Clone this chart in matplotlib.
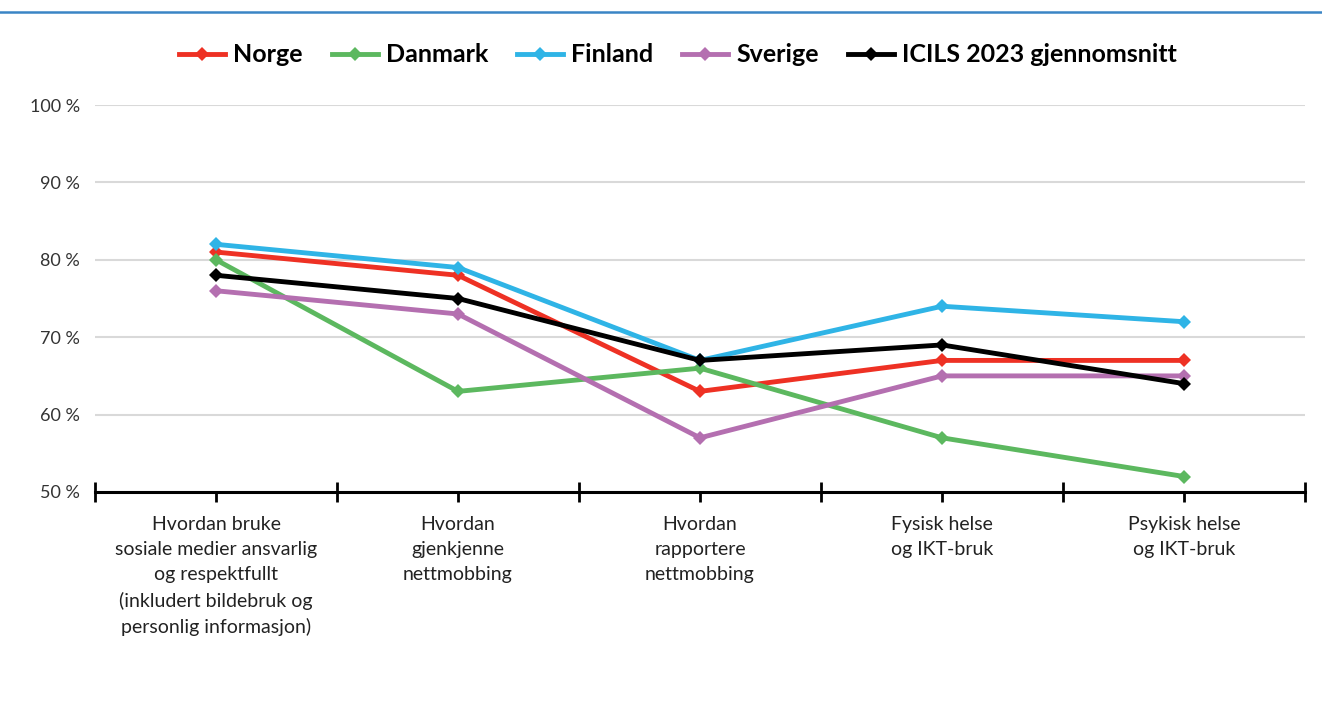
import numpy as np
import matplotlib
matplotlib.use('Agg')
import matplotlib.pyplot as plt
from matplotlib.lines import Line2D
from matplotlib.ticker import FuncFormatter, FixedLocator

plt.rcParams['font.family'] = ['Lato', 'DejaVu Sans']

# Kategorier og verdier (prosent)
kategorier = [
    'Hvordan bruke\nsosiale medier ansvarlig\nog respektfullt\n(inkludert bildebruk og\npersonlig informasjon)',
    'Hvordan\ngjenkjenne\nnettmobbing',
    'Hvordan\nrapportere\nnettmobbing',
    'Fysisk helse\nog IKT-bruk',
    'Psykisk helse\nog IKT-bruk',
]
norge = [81, 78, 63, 67, 67]
danmark = [80, 63, 66, 57, 52]
finland = [82, 79, 67, 74, 72]
sverige = [76, 73, 57, 65, 65]
icils = [78, 75, 67, 69, 64]

serier = [
    ('Norge', norge, '#ee3124'),
    ('Danmark', danmark, '#5cb85f'),
    ('Finland', finland, '#2fb4e6'),
    ('Sverige', sverige, '#b46fb0'),
    ('ICILS 2023 gjennomsnitt', icils, '#000000'),
]

fig = plt.figure(figsize=(13.22, 7.06), dpi=100)
ax = fig.add_axes([95 / 1322, 1 - 492 / 706, 1210 / 1322, 387 / 706])

x = np.arange(len(kategorier))
for navn, verdier, farge in serier:
    ax.plot(x, verdier, color=farge, lw=3.5, marker='D', ms=7.5,
            markeredgewidth=0, label=navn, zorder=3)

ax.set_xlim(-0.5, len(kategorier) - 0.5)
ax.set_ylim(50, 100)
ax.set_yticks([50, 60, 70, 80, 90, 100])
ax.yaxis.set_major_formatter(FuncFormatter(lambda v, p: f'{int(v)} %'))
ax.tick_params(axis='y', length=0, pad=11, labelsize=13, labelcolor='#333333')
ax.yaxis.grid(True, color='#d9d9d9', lw=1.5, zorder=0)
ax.set_axisbelow(True)

# x-akse: lange kryssende streker mellom kategoriene, korte under punktene
ax.xaxis.set_major_locator(FixedLocator(np.arange(len(kategorier) + 1) - 0.5))
ax.xaxis.set_minor_locator(FixedLocator(x))
ax.set_xticklabels([''] * (len(kategorier) + 1))
ax.set_xticklabels([''] * len(kategorier), minor=True)
ax.tick_params(axis='x', which='major', direction='inout', length=15, width=2, color='black')
ax.tick_params(axis='x', which='minor', direction='out', length=7, width=2, color='black')

# kategorinavn under aksen (egen tekst for å styre linjeavstanden)
for xi, navn in zip(x, kategorier):
    ax.annotate(navn, xy=(xi, 0), xycoords=('data', 'axes fraction'),
                xytext=(0, -17), textcoords='offset points',
                ha='center', va='top', fontsize=14, color='#222222',
                linespacing=1.58, annotation_clip=False)

for s in ['top', 'right', 'left']:
    ax.spines[s].set_visible(False)
ax.spines['bottom'].set_linewidth(2.2)
ax.spines['bottom'].set_zorder(4)

leg = fig.legend(loc='center', bbox_to_anchor=(678 / 1322, 1 - 55 / 706), ncol=5,
                 frameon=False, handlelength=1.85, columnspacing=1.15, handletextpad=0.32,
                 prop={'weight': 'bold', 'size': 18})

# blå linje øverst
fig.add_artist(Line2D([0, 1], [1 - 12 / 706, 1 - 12 / 706], color='#3a85c5', lw=1.8,
                      transform=fig.transFigure))

fig.savefig('out.png', dpi=100)
